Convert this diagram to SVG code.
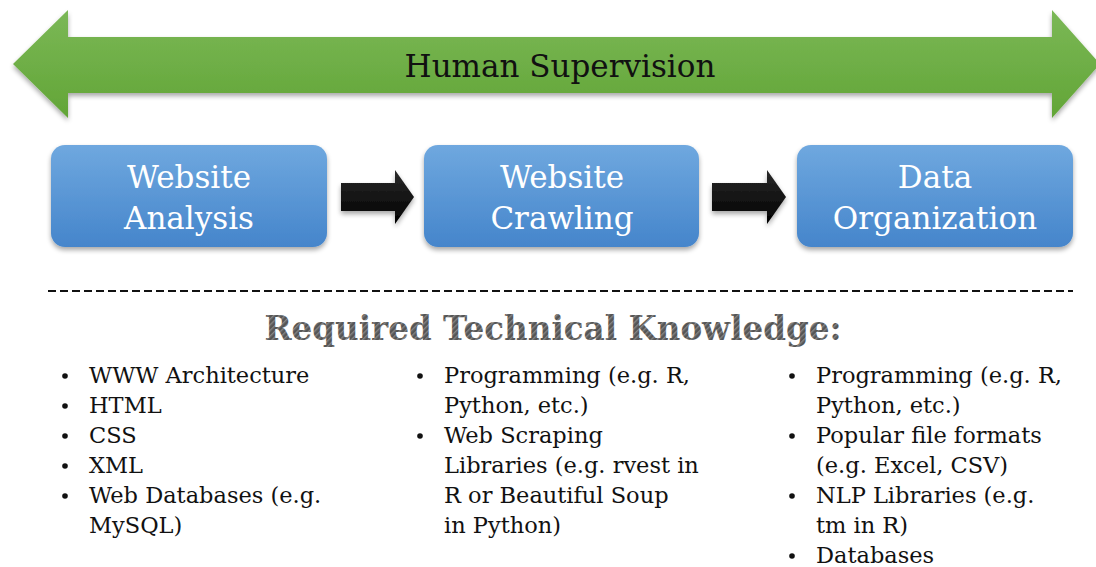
<svg xmlns="http://www.w3.org/2000/svg" width="1096" height="567" viewBox="0 0 1096 567">
  <style>
    .box-label { font-family: "DejaVu Serif", "Liberation Serif", serif; font-size: 31px; fill: #ffffff; text-anchor: middle; }
    .item { font-family: "DejaVu Serif", "Liberation Serif", serif; font-size: 22.5px; fill: #111111; }
    .bullet { fill: #111111; }
  </style>
  <defs>
    <linearGradient id="greenFill" x1="0" y1="0" x2="0" y2="1">
      <stop offset="0" stop-color="#7bb857"/>
      <stop offset="1" stop-color="#62a536"/>
    </linearGradient>
    <linearGradient id="blueFill" x1="0" y1="0" x2="0" y2="1">
      <stop offset="0" stop-color="#6fa8df"/>
      <stop offset="1" stop-color="#4585cb"/>
    </linearGradient>
    <linearGradient id="blackFill" x1="0" y1="0" x2="0" y2="1">
      <stop offset="0" stop-color="#2a2a2a"/>
      <stop offset="1" stop-color="#000000"/>
    </linearGradient>
    <pattern id="hatch" width="4" height="4" patternUnits="userSpaceOnUse" patternTransform="rotate(45)">
      <rect width="4" height="4" fill="#555555"/>
      <rect width="1.4" height="4" fill="#858585"/>
    </pattern>
    <filter id="shadow" x="-10%" y="-10%" width="120%" height="130%">
      <feGaussianBlur in="SourceAlpha" stdDeviation="2.5"/>
      <feOffset dx="0" dy="3" result="b"/>
      <feComponentTransfer><feFuncA type="linear" slope="0.35"/></feComponentTransfer>
      <feMerge><feMergeNode/><feMergeNode in="SourceGraphic"/></feMerge>
    </filter>
  </defs>

  <!-- Supervision band: double-headed arrow -->
  <g id="supervision">
    <path d="M13,64 L68,10 L68,37 L1052,37 L1052,10 L1100,64 L1052,118 L1052,93 L68,93 L68,118 Z" fill="url(#greenFill)" filter="url(#shadow)"/>
    <text x="560" y="77" font-family="DejaVu Serif, Liberation Serif, serif" font-size="31" fill="#111111" text-anchor="middle">Human Supervision</text>
  </g>

  <!-- Process steps -->
  <g id="step-analysis">
    <rect x="51" y="145" width="276" height="102" rx="14" fill="url(#blueFill)" filter="url(#shadow)"/>
    <text class="box-label" x="189" y="188">Website</text>
    <text class="box-label" x="189" y="229">Analysis</text>
  </g>
  <g id="step-crawling">
    <rect x="424" y="145" width="275" height="102" rx="14" fill="url(#blueFill)" filter="url(#shadow)"/>
    <text class="box-label" x="562" y="188">Website</text>
    <text class="box-label" x="562" y="229">Crawling</text>
  </g>
  <g id="step-organization">
    <rect x="797" y="145" width="276" height="102" rx="14" fill="url(#blueFill)" filter="url(#shadow)"/>
    <text class="box-label" x="935" y="188">Data</text>
    <text class="box-label" x="935" y="229">Organization</text>
  </g>

  <!-- Connectors between steps -->
  <g id="connectors">
    <path d="M341,183 L395,183 L395,170 L414,197 L395,224 L395,211 L341,211 Z" fill="url(#blackFill)" filter="url(#shadow)"/>
    <path d="M712,183 L767,183 L767,170 L786,197 L767,224 L767,211 L712,211 Z" fill="url(#blackFill)" filter="url(#shadow)"/>
  </g>

  <!-- Divider -->
  <line x1="48" y1="291" x2="1073" y2="291" stroke="#111111" stroke-width="2" stroke-dasharray="8 4"/>

  <!-- Heading -->
  <text x="553" y="340" font-family="DejaVu Serif, Liberation Serif, serif" font-weight="bold" font-size="33" fill="url(#hatch)" text-anchor="middle" textLength="577" lengthAdjust="spacingAndGlyphs">Required Technical Knowledge:</text>

  <!-- Knowledge lists -->
  <g id="list-analysis">
    <circle class="bullet" cx="65" cy="376" r="2.8"/>
    <circle class="bullet" cx="65" cy="406" r="2.8"/>
    <circle class="bullet" cx="65" cy="436" r="2.8"/>
    <circle class="bullet" cx="65" cy="466" r="2.8"/>
    <circle class="bullet" cx="65" cy="496" r="2.8"/>
    <text class="item" x="89" y="383">WWW Architecture</text>
    <text class="item" x="89" y="413">HTML</text>
    <text class="item" x="89" y="443">CSS</text>
    <text class="item" x="89" y="473">XML</text>
    <text class="item" x="89" y="503">Web Databases (e.g.</text>
    <text class="item" x="89" y="533">MySQL)</text>
  </g>
  <g id="list-crawling">
    <circle class="bullet" cx="420" cy="376" r="2.8"/>
    <circle class="bullet" cx="420" cy="436" r="2.8"/>
    <text class="item" x="444" y="383">Programming (e.g. R,</text>
    <text class="item" x="444" y="413">Python, etc.)</text>
    <text class="item" x="444" y="443">Web Scraping</text>
    <text class="item" x="444" y="473">Libraries (e.g. rvest in</text>
    <text class="item" x="444" y="503">R or Beautiful Soup</text>
    <text class="item" x="444" y="533">in Python)</text>
  </g>
  <g id="list-organization">
    <circle class="bullet" cx="792" cy="376" r="2.8"/>
    <circle class="bullet" cx="792" cy="436" r="2.8"/>
    <circle class="bullet" cx="792" cy="496" r="2.8"/>
    <circle class="bullet" cx="792" cy="556" r="2.8"/>
    <text class="item" x="816" y="383">Programming (e.g. R,</text>
    <text class="item" x="816" y="413">Python, etc.)</text>
    <text class="item" x="816" y="443">Popular file formats</text>
    <text class="item" x="816" y="473">(e.g. Excel, CSV)</text>
    <text class="item" x="816" y="503">NLP Libraries (e.g.</text>
    <text class="item" x="816" y="533">tm in R)</text>
    <text class="item" x="816" y="563">Databases</text>
  </g>
</svg>
